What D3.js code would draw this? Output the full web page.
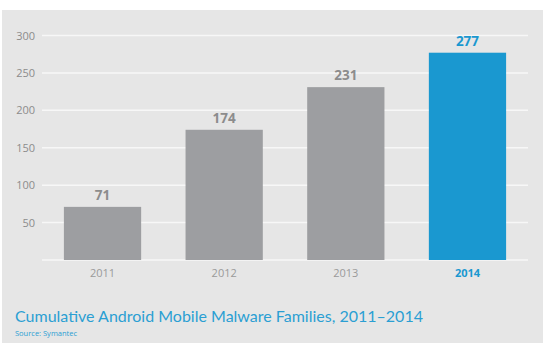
<!DOCTYPE html>
<html>
<head>
<meta charset="utf-8">
<script src="https://cdn.jsdelivr.net/npm/d3@7"></script>
<style>
  body { margin: 0; background: #fff; }
  text { font-family: "Open Sans", "Noto Sans", sans-serif; }
</style>
</head>
<body>
<script>
// chart data
var years = ["2011", "2012", "2013", "2014"];
var families = [71, 174, 231, 277];
var tickValues = [50, 100, 150, 200, 250, 300];

var width = 546, height = 348;

var svg = d3.select("body")
            .append("svg")
            .attr("width", width)
            .attr("height", height);

// grey panel behind everything
svg.append("rect")
   .attr("x", 2).attr("y", 10)
   .attr("width", 541).attr("height", 333)
   .attr("fill", "#e6e6e6");

var x = d3.scaleBand()
    .domain(years)
    .range([42, 528])
    .paddingInner(0.365)
    .paddingOuter(0.18);

var y = d3.scaleLinear()
    .domain([0, 300])
    .range([260, 35.5]);

// gridlines
svg.append("g")
   .selectAll("line")
   .data([0].concat(tickValues))
   .enter().append("line")
   .attr("x1", 42).attr("x2", 528)
   .attr("y1", function(d) { return y(d); })
   .attr("y2", function(d) { return y(d); })
   .attr("stroke", "#f7f7f7")
   .attr("stroke-width", 1.5);

// y axis labels
var yAxis = svg.append("g")
   .attr("transform", "translate(35,0)")
   .call(d3.axisLeft(y).tickValues(tickValues).tickSize(0).tickPadding(0));
yAxis.select(".domain").remove();
yAxis.selectAll("text")
   .attr("fill", "#8c8c8c")
   .style("font-size", "11px")
   .style("font-family", "'Open Sans', sans-serif");

// bars
svg.append("g")
   .selectAll("rect")
   .data(families)
   .enter().append("rect")
   .attr("x", function(d, i) { return x(years[i]); })
   .attr("y", function(d) { return y(d); })
   .attr("width", x.bandwidth())
   .attr("height", function(d) { return y(0) - y(d); })
   .attr("fill", function(d, i) { return i == 3 ? "#1a98d0" : "#9d9ea1"; });

// value labels
svg.append("g")
   .selectAll("text")
   .data(families)
   .enter().append("text")
   .attr("x", function(d, i) { return x(years[i]) + x.bandwidth() / 2; })
   .attr("y", function(d) { return y(d) - 7; })
   .attr("text-anchor", "middle")
   .attr("font-size", "13.5px")
   .attr("font-weight", "bold")
   .attr("fill", function(d, i) { return i == 3 ? "#1a98d0" : "#8c8c8c"; })
   .text(function(d) { return d; });

// x axis labels
var xAxis = svg.append("g")
   .attr("transform", "translate(0,269)")
   .call(d3.axisBottom(x).tickSize(0).tickPadding(0));
xAxis.select(".domain").remove();
xAxis.selectAll("text")
   .attr("fill", function(d, i) { return i == 3 ? "#1a98d0" : "#9a9a9a"; })
   .attr("font-weight", function(d, i) { return i == 3 ? "bold" : "normal"; })
   .style("font-size", "11px")
   .style("font-family", "'Open Sans', sans-serif");

// title and source
svg.append("text")
   .attr("x", 15).attr("y", 322)
   .attr("fill", "#2b9fd3")
   .style("font-family", "Lato, sans-serif")
   .attr("font-size", "16px")
   .text("Cumulative Android Mobile Malware Families, 2011\u20132014");

svg.append("text")
   .attr("x", 15).attr("y", 336)
   .attr("fill", "#2b9fd3")
   .attr("font-size", "7.5px")
   .text("Source: Symantec");
</script>
</body>
</html>
